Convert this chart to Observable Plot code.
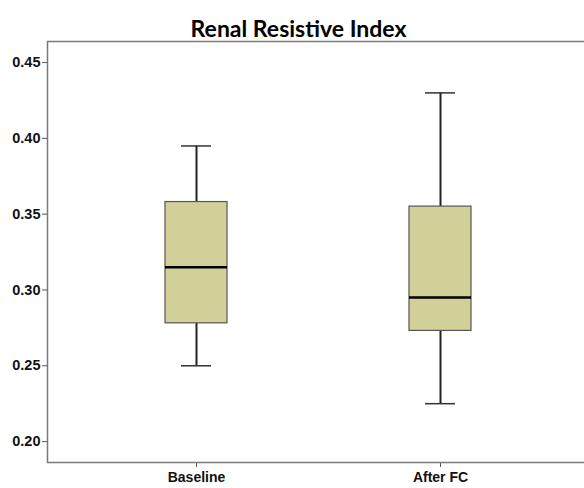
<!DOCTYPE html>
<html>
<head>
<meta charset="utf-8">
<script src="https://cdn.jsdelivr.net/npm/d3@7"></script>
<script src="https://cdn.jsdelivr.net/npm/@observablehq/plot@0.6"></script>
<style>
  html, body { margin: 0; padding: 0; background: #fff; overflow: hidden; }
  #chart { width: 584px; height: 488px; overflow: hidden; }
  #chart svg { display: block; max-width: none !important; }
</style>
</head>
<body>
<div id="chart"></div>
<script>
const titleText = "Renal Resistive Index";
const groups = ["Baseline", "After FC"];
const whiskerLow = [0.250, 0.225];
const q1 = [0.278, 0.273];
const median = [0.315, 0.295];
const q3 = [0.358, 0.355];
const whiskerHigh = [0.395, 0.430];
const yTicks = [0.20, 0.25, 0.30, 0.35, 0.40, 0.45];

const data = groups.map((g, i) => ({
  group: g, lo: whiskerLow[i], q1: q1[i], med: median[i], q3: q3[i], hi: whiskerHigh[i]
}));

const chart = Plot.plot({
  width: 592,
  height: 488,
  marginTop: 41,
  marginBottom: 26,
  marginLeft: 47,
  marginRight: 0,
  style: { fontFamily: "'Liberation Sans', Arial, sans-serif", background: "#fff", maxWidth: "none" },
  x: {
    domain: groups,
    range: [47, 589],
    paddingInner: 0.746,
    paddingOuter: 0.4836,
    label: null,
    axis: null
  },
  y: {
    domain: [0.1862, 0.4639],
    label: null,
    axis: null
  },
  marks: [
    Plot.axisY(yTicks, {
      tickSize: 5,
      tickPadding: 2,
      tickFormat: d3.format(".2f"),
      stroke: "#555",
      fill: "#111",
      fontSize: 14.5,
      fontWeight: "bold",
      label: null
    }),
    Plot.axisX(groups, {
      tickSize: 5,
      tickPadding: 5,
      stroke: "#555",
      fill: "#111",
      fontSize: 14,
      fontWeight: "bold",
      label: null
    }),
    Plot.frame({ stroke: "#7a7a7a", strokeWidth: 1.5 }),
    Plot.ruleX(data, { x: "group", y1: "lo", y2: "q1", stroke: "#222", strokeWidth: 2 }),
    Plot.ruleX(data, { x: "group", y1: "q3", y2: "hi", stroke: "#222", strokeWidth: 2 }),
    Plot.tickY(data, { x: "group", y: "lo", stroke: "#333", strokeWidth: 1.5, insetLeft: 16, insetRight: 16 }),
    Plot.tickY(data, { x: "group", y: "hi", stroke: "#333", strokeWidth: 1.5, insetLeft: 16, insetRight: 16 }),
    Plot.barY(data, { x: "group", y1: "q1", y2: "q3", fill: "#d3cf98", stroke: "#555", strokeWidth: 1.2 }),
    Plot.tickY(data, { x: "group", y: "med", stroke: "#000", strokeWidth: 2.5 }),
    Plot.text([titleText], {
      frameAnchor: "top-left",
      textAnchor: "middle",
      dx: 251,
      dy: -21,
      fontSize: 23,
      fontWeight: "bold",
      fontFamily: "Lato, 'Open Sans', sans-serif",
      fill: "#000"
    })
  ]
});

document.getElementById("chart").append(chart);
</script>
</body>
</html>
